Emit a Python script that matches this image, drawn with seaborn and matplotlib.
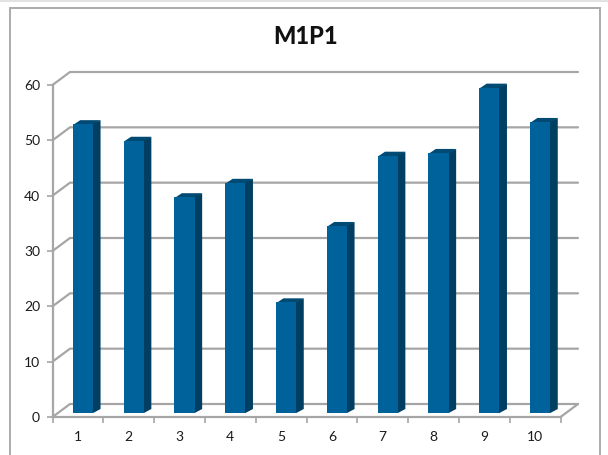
import matplotlib
matplotlib.use("Agg")
import matplotlib.pyplot as plt
from matplotlib.patches import Polygon, Rectangle
import pandas as pd
import seaborn as sns

runs = ["1", "2", "3", "4", "5", "6", "7", "8", "9", "10"]
scores = [52.2, 49.2, 39.0, 41.6, 20.0, 33.8, 46.5, 47.0, 58.8, 52.6]
y_ticks = [0, 10, 20, 30, 40, 50, 60]

front = "#00629b"
side = "#003f62"
roof = "#004a73"
grid = "#a6a6a6"

sns.set_theme(style="white")
plt.rcParams["font.family"] = ["Lato", "DejaVu Sans"]

W, H = 608, 455
fig = plt.figure(figsize=(W / 100, H / 100), dpi=100, facecolor="white")
# front plane of the fake 3d box, in pixels
left, right, y0, y60 = 52.5, 560.5, 417.0, 85.0
ax = fig.add_axes([left / W, 1 - y0 / H, (right - left) / W, (y0 - y60) / H])

df = pd.DataFrame({"run": runs, "score": scores})
sns.barplot(data=df, x="run", y="score", color=front, saturation=1, width=0.4,
            linewidth=0, edgecolor="none", ax=ax, zorder=5)
ax.set_xlim(-0.5, 9.5)
ax.set_ylim(0, 60)
ax.patch.set_alpha(0)

# pixel sizes to data units
px_x = 10 / (right - left)
px_y = 60 / (y0 - y60)
wall_dx, wall_dy = 17.5 * px_x, 13 * px_y
bar_dx, bar_dy = 7.5 * px_x, 4 * px_y
lift = 4 * px_y
shift = 5 * px_x
seam = 1 * px_x  # side faces slip under the front so no white gap shows

# back wall and floor
for t in y_ticks:
    ax.plot([-0.5, -0.5 + wall_dx, 9.5 + wall_dx], [t, t + wall_dy, t + wall_dy],
            color=grid, lw=1.6, clip_on=False, zorder=1, solid_joinstyle="miter")
ax.plot([9.5, 9.5 + wall_dx], [0, wall_dy], color=grid, lw=1.6, clip_on=False, zorder=1)

# side and top faces taken from the bars seaborn drew
for bar in list(ax.patches):
    bar.set_x(bar.get_x() + shift)
    bar.set_y(lift)
    bar.set_clip_on(False)
    x0, w, h = bar.get_x(), bar.get_width(), bar.get_height()
    x1, top = x0 + w, lift + h
    ax.add_patch(Polygon([(x0 + bar_dx, top + bar_dy), (x1 + bar_dx, top + bar_dy), (x1, top - px_y), (x0, top - px_y)],
                         fc=roof, ec="none", clip_on=False, zorder=3))
    ax.add_patch(Polygon([(x1 - seam, lift), (x1, lift), (x1 + bar_dx, lift + bar_dy),
                          (x1 + bar_dx, top + bar_dy), (x1, top), (x1 - seam, top)],
                         fc=side, ec="none", clip_on=False, zorder=4))

for s in ["top", "right"]:
    ax.spines[s].set_visible(False)
for s in ["left", "bottom"]:
    ax.spines[s].set_color(grid)
    ax.spines[s].set_linewidth(1.6)

ax.set_yticks(y_ticks)
ax.set_xticks([i - 0.5 for i in range(11)])
ax.set_xticklabels([])
ax.set_xticks(range(10), labels=runs, minor=True)
ax.tick_params(axis="x", which="major", length=4, width=1.2, color=grid, bottom=True)
ax.tick_params(axis="x", which="minor", length=0, pad=10, labelsize=10, labelcolor="#1a1a1a", bottom=True)
ax.tick_params(axis="y", length=4, width=1.2, color=grid, pad=5, labelsize=10, labelcolor="#1a1a1a", left=True)
ax.set_xlabel("")
ax.set_ylabel("")

fig.text(306 / W, 1 - 36 / H, "M1P1", ha="center", va="center", fontsize=17, fontweight="black", color="#111111")

# chart frame and the light strip above it
fig.add_artist(Rectangle((9.5 / W, -0.02), (600 - 9.5) / W, 1.02 - 8 / H, transform=fig.transFigure,
                         fc="none", ec="#ababab", lw=1.4))
fig.add_artist(Rectangle((0, 1 - 2 / H), 1, 2 / H, transform=fig.transFigure, fc="#e2e2e2", ec="none"))

fig.savefig("out.png", dpi=100)
